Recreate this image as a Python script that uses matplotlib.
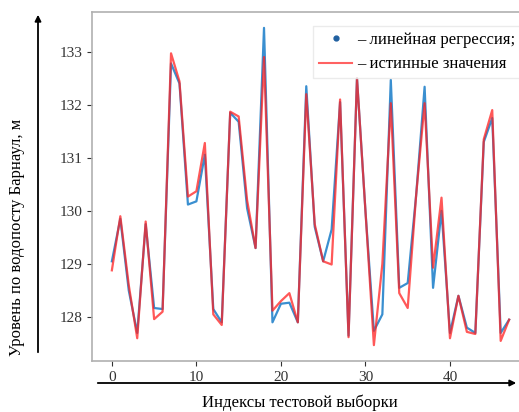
import matplotlib
matplotlib.use("Agg")
import matplotlib.pyplot as plt
import numpy as np
from matplotlib.lines import Line2D

plt.rcParams['font.family'] = ['Liberation Serif', 'DejaVu Serif']

# data
idx = np.arange(48)
y_pred = [129.05, 129.85, 128.5, 127.7, 129.75, 128.17, 128.15, 132.78, 132.4, 130.12,
          130.18, 131.06, 128.15, 127.9, 131.85, 131.68, 130.05, 129.3, 133.45, 127.9,
          128.25, 128.27, 127.9, 132.35, 129.7, 129.05, 129.65, 132.05, 127.65, 132.5,
          130.0, 127.74, 128.05, 132.47, 128.55, 128.64, 130.3, 132.34, 128.55, 130.0,
          127.7, 128.4, 127.8, 127.7, 131.3, 131.75, 127.7, 127.95]
y_true = [128.88, 129.9, 128.6, 127.6, 129.8, 127.96, 128.1, 132.97, 132.44, 130.27,
          130.37, 131.28, 128.05, 127.85, 131.87, 131.78, 130.2, 129.3, 132.9, 128.12,
          128.3, 128.45, 127.9, 132.2, 129.75, 129.05, 128.99, 132.1, 127.62, 132.5,
          130.0, 127.47, 129.0, 132.03, 128.45, 128.17, 130.3, 132.03, 128.93, 130.25,
          127.6, 128.4, 127.72, 127.68, 131.35, 131.9, 127.55, 127.95]

fig = plt.figure(figsize=(5.19, 4.12), dpi=100)
ax = fig.add_axes([92 / 519, 51 / 412, 437 / 519, 349 / 412])

ax.plot(idx, y_pred, color='#3a8fd0', linewidth=1.6)
ax.plot(idx, y_true, color='#ff2020', linewidth=1.6, alpha=0.75)
ax.set_xlim(-2.35, 49.35)

ax.set_xticks([0, 10, 20, 30, 40])
ax.set_yticks([128, 129, 130, 131, 132, 133])
ax.tick_params(labelsize=11, colors='#333333', length=3.5, width=0.8)
for s in ax.spines.values():
    s.set_color('#b0b0b0')
    s.set_linewidth(1.2)
ax.spines['right'].set_visible(False)

handles = [Line2D([], [], marker='o', markersize=3.5, color='#2060a0', linestyle='none'),
           Line2D([], [], color='#ff2020', alpha=0.7, linewidth=1.5)]
labels = ['– линейная регрессия;', '– истинные значения']
fig.legend(handles, labels, loc='upper left', bbox_to_anchor=(305 / 519, 1 - 18 / 412),
           fontsize=12, frameon=True, edgecolor='#e6e6e6', fancybox=False,
           handlelength=2.0, handletextpad=0.3, borderpad=0.35, labelspacing=0.5)

# arrows and axis captions outside the axes
fig.patches.append(matplotlib.patches.FancyArrowPatch(
    (38 / 519, 1 - 355 / 412), (38 / 519, 1 - 12 / 412), transform=fig.transFigure,
    arrowstyle='-|>', mutation_scale=9, color='black', linewidth=1.3))
fig.patches.append(matplotlib.patches.FancyArrowPatch(
    (95 / 519, 1 - 383 / 412), (519 / 519, 1 - 383 / 412), transform=fig.transFigure,
    arrowstyle='-|>', mutation_scale=9, color='black', linewidth=1.3))

fig.text(17 / 519, 1 - 237 / 412, 'Уровень по водопосту Барнаул, м', rotation=90,
         ha='center', va='center', fontsize=12)
fig.text(300 / 519, 1 - 403 / 412, 'Индексы тестовой выборки', ha='center', va='center',
         fontsize=12)

fig.savefig('out.png', dpi=100)
